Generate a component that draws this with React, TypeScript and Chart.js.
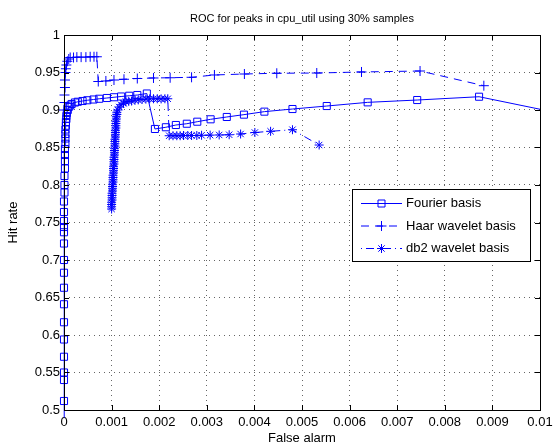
import React, { useEffect, useRef } from "react";
import { Chart, registerables } from "chart.js";

Chart.register(...registerables);

const TITLE = "ROC for peaks in cpu_util using 30% samples";
const X_LABEL = "False alarm";
const Y_LABEL = "Hit rate";
const X_TICKS = ["0", "0.001", "0.002", "0.003", "0.004", "0.005", "0.006", "0.007", "0.008", "0.009", "0.01"];
const Y_TICKS = ["0.5", "0.55", "0.6", "0.65", "0.7", "0.75", "0.8", "0.85", "0.9", "0.95", "1"];
const SERIES_NAMES = ["Fourier basis", "Haar wavelet basis", "db2 wavelet basis"];

const fourierX = [
  0, 0, 0, 0, 0, 0, 0, 0, 0, 0, 0, 0, 0, 0, 0, 0, 0,
  0.00001, 0.00001, 0.00001, 0.00002, 0.00002, 0.00002, 0.00002, 0.00003, 0.00003, 0.00003, 0.00003, 0.00004, 0.00004, 0.00005, 0.00005,
  0.00006, 0.00008, 0.0001, 0.00013,
  0.00016, 0.00023, 0.00029, 0.00039, 0.00049, 0.00062, 0.00074, 0.0009, 0.00105, 0.0012, 0.00137, 0.00154, 0.00174,
  0.00191, 0.00214, 0.00235, 0.00258, 0.0028, 0.00308, 0.00342, 0.00378, 0.00421, 0.0048, 0.00552, 0.00638, 0.00742, 0.00872, 0.0105,
];
const fourierY = [
  0.49, 0.512, 0.54, 0.55, 0.571, 0.594, 0.617, 0.641, 0.663, 0.683, 0.7, 0.722, 0.737, 0.744, 0.752, 0.764, 0.778,
  0.79, 0.8, 0.812, 0.822, 0.832, 0.84, 0.848, 0.855, 0.862, 0.868, 0.874, 0.879, 0.884, 0.888, 0.892,
  0.896, 0.9, 0.904, 0.906,
  0.908, 0.91, 0.911, 0.912, 0.913, 0.914, 0.915, 0.916, 0.917, 0.918, 0.919, 0.92, 0.922,
  0.8747, 0.877, 0.88, 0.8817, 0.8844, 0.8876, 0.8907, 0.8938, 0.8978, 0.9013, 0.9053, 0.9102, 0.9133, 0.9177, 0.8945,
];

const haarX = [
  0, 0.00001, 0.00001, 0.00002, 0.00002, 0.00003, 0.00004, 0.00005, 0.00007, 0.0001,
  0.00013, 0.0002, 0.00027, 0.00036, 0.00046, 0.00055, 0.00063, 0.00069,
  0.00072, 0.00088, 0.00105, 0.00126, 0.00154, 0.00188, 0.00223, 0.00268, 0.00316, 0.00379, 0.00447, 0.00531, 0.00625, 0.00748, 0.00882,
];
const haarY = [
  0.9, 0.91, 0.92, 0.93, 0.94, 0.95, 0.955, 0.96, 0.965, 0.968,
  0.97, 0.97, 0.9705, 0.9705, 0.9705, 0.971, 0.971, 0.971,
  0.938, 0.9387, 0.94, 0.941, 0.942, 0.9427, 0.943, 0.9436, 0.9467, 0.948, 0.949, 0.9493, 0.9507, 0.952, 0.9324,
];

const db2X = [
  0.001, 0.001, 0.001, 0.001, 0.00101, 0.00101, 0.00101, 0.00101, 0.00102, 0.00102, 0.00102, 0.00102,
  0.00103, 0.00103, 0.00103, 0.00103, 0.00104, 0.00104, 0.00104, 0.00104, 0.00105, 0.00105, 0.00105, 0.00105,
  0.00106, 0.00106, 0.00106, 0.00106, 0.00107, 0.00107, 0.00107, 0.00107, 0.00108, 0.00108, 0.00108, 0.00108,
  0.00109, 0.00109, 0.00109, 0.00109, 0.0011, 0.0011, 0.00111, 0.00111,
  0.00113, 0.00116, 0.0012, 0.00125, 0.0013, 0.00136, 0.00142, 0.00149, 0.00156, 0.00164, 0.00172, 0.0018, 0.00188, 0.00196, 0.00204, 0.00212, 0.00218,
  0.00221, 0.00229, 0.00237, 0.00244, 0.00251, 0.0026, 0.00268, 0.00279, 0.00289, 0.00307, 0.00326, 0.00347, 0.00371, 0.00401, 0.00434, 0.0048, 0.00536,
];
const db2Y = [
  0.768, 0.771, 0.774, 0.777, 0.78, 0.783, 0.786, 0.789, 0.792, 0.795, 0.798, 0.801,
  0.804, 0.807, 0.81, 0.813, 0.816, 0.819, 0.822, 0.825, 0.828, 0.831, 0.834, 0.837,
  0.84, 0.843, 0.846, 0.849, 0.852, 0.855, 0.858, 0.861, 0.864, 0.867, 0.87, 0.873,
  0.876, 0.879, 0.882, 0.885, 0.888, 0.891, 0.894, 0.897,
  0.9, 0.904, 0.907, 0.909, 0.911, 0.9115, 0.912, 0.913, 0.9135, 0.914, 0.9145, 0.9148, 0.915, 0.915, 0.9148, 0.915, 0.915,
  0.8657, 0.8657, 0.8657, 0.8657, 0.866, 0.866, 0.866, 0.866, 0.8663, 0.8665, 0.8667, 0.867, 0.868, 0.87, 0.8716, 0.8737, 0.8533,
];

const BLUE = "#0000ff";
const FONT = "'Liberation Sans', Arial, Helvetica, sans-serif";

const toPoints = (xs: number[], ys: number[]) => xs.map((x, i) => ({ x, y: ys[i] }));

function drawMarker(ctx: CanvasRenderingContext2D, kind: string, x: number, y: number) {
  ctx.beginPath();
  if (kind === "rect") {
    ctx.rect(x - 3.5, y - 3.5, 7, 7);
  } else if (kind === "cross") {
    ctx.moveTo(x - 5, y); ctx.lineTo(x + 5, y);
    ctx.moveTo(x, y - 5); ctx.lineTo(x, y + 5);
  } else {
    const r = 4.5;
    ctx.moveTo(x - r, y); ctx.lineTo(x + r, y);
    ctx.moveTo(x, y - r); ctx.lineTo(x, y + r);
    const d = r * Math.SQRT1_2;
    ctx.moveTo(x - d, y - d); ctx.lineTo(x + d, y + d);
    ctx.moveTo(x - d, y + d); ctx.lineTo(x + d, y - d);
  }
  ctx.stroke();
}

const framePlugin = {
  id: "matlabFrame",
  afterDraw(chart: any) {
    const { ctx, chartArea } = chart;
    const { left, right, top, bottom } = chartArea;
    const xs = chart.scales.x;
    const ys = chart.scales.y;
    ctx.save();
    ctx.strokeStyle = "#000";
    ctx.lineWidth = 1;
    ctx.setLineDash([]);
    ctx.strokeRect(Math.round(left) + 0.5, Math.round(top) + 0.5, Math.round(right - left), Math.round(bottom - top));
    ctx.beginPath();
    const tl = 5;
    xs.ticks.forEach((t: any) => {
      const px = Math.round(xs.getPixelForValue(t.value)) + 0.5;
      ctx.moveTo(px, bottom); ctx.lineTo(px, bottom - tl);
      ctx.moveTo(px, top); ctx.lineTo(px, top + tl);
    });
    ys.ticks.forEach((t: any) => {
      const py = Math.round(ys.getPixelForValue(t.value)) + 0.5;
      ctx.moveTo(left, py); ctx.lineTo(left + tl, py);
      ctx.moveTo(right, py); ctx.lineTo(right - tl, py);
    });
    ctx.stroke();

    // title & axis labels
    ctx.fillStyle = "#000";
    ctx.font = `11px ${FONT}`;
    ctx.textAlign = "center";
    ctx.textBaseline = "middle";
    ctx.fillText(TITLE, (left + right) / 2, 19);
    ctx.font = `13px ${FONT}`;
    ctx.fillText(X_LABEL, (left + right) / 2, 438);
    ctx.save();
    ctx.translate(13, (top + bottom) / 2);
    ctx.rotate(-Math.PI / 2);
    ctx.fillText(Y_LABEL, 0, 0);
    ctx.restore();

    // legend
    const bx = 352.5, by = 189.5, bw = 178, bh = 72;
    ctx.fillStyle = "#fff";
    ctx.fillRect(bx, by, bw, bh);
    ctx.strokeStyle = "#000";
    ctx.strokeRect(bx, by, bw, bh);
    const rows = [203.5, 226, 248.5];
    const dashes = [[], [8, 6], [1, 4, 8, 4]];
    const markers = ["rect", "cross", "star"];
    ctx.font = `13px ${FONT}`;
    ctx.textAlign = "left";
    rows.forEach((ry, i) => {
      ctx.strokeStyle = BLUE;
      ctx.lineWidth = 1;
      ctx.setLineDash(dashes[i]);
      ctx.beginPath();
      ctx.moveTo(361, ry); ctx.lineTo(402, ry);
      ctx.stroke();
      ctx.setLineDash([]);
      drawMarker(ctx, markers[i], 381.5, ry);
      ctx.fillStyle = "#000";
      ctx.fillText(SERIES_NAMES[i], 406, ry);
    });
    ctx.restore();
  },
};

export default function App() {
  const ref = useRef<HTMLCanvasElement>(null);
  useEffect(() => {
    if (!ref.current) return;
    const common = {
      borderColor: BLUE,
      borderWidth: 1,
      pointBorderColor: BLUE,
      pointBackgroundColor: "rgba(0,0,0,0)",
      pointBorderWidth: 1,
      pointHoverRadius: 0,
      tension: 0,
      fill: false,
      clip: { left: 10, top: 10, right: 0, bottom: 10 },
    };
    const chart = new Chart(ref.current, {
      type: "line",
      data: {
        datasets: [
          { ...common, label: SERIES_NAMES[0], data: toPoints(fourierX, fourierY), pointStyle: "rect", pointRadius: 5 },
          { ...common, label: SERIES_NAMES[1], data: toPoints(haarX, haarY), pointStyle: "cross", pointRadius: 5, borderDash: [8, 6] },
          { ...common, label: SERIES_NAMES[2], data: toPoints(db2X, db2Y), pointStyle: "star", pointRadius: 4.5, borderDash: [1, 4, 8, 4] },
        ],
      } as any,
      options: {
        animation: false,
        responsive: false,
        devicePixelRatio: 1,
        events: [],
        layout: { padding: { top: 35, right: 20, left: 0, bottom: 0 } },
        plugins: { legend: { display: false }, title: { display: false }, tooltip: { enabled: false } },
        scales: {
          x: {
            type: "linear",
            min: 0,
            max: 0.01,
            afterFit: (s: any) => { s.height = 37; },
            afterBuildTicks: (s: any) => { s.ticks = X_TICKS.map((_, i) => ({ value: i * 0.001 })); },
            ticks: {
              padding: 5,
              color: "#000",
              font: { family: FONT, size: 13 },
              maxRotation: 0,
              autoSkip: false,
              callback: (_v: any, i: number) => X_TICKS[i],
            },
            grid: { color: "rgba(0,0,0,0.6)", drawTicks: false, lineWidth: 1 },
            border: { display: false, dash: [1, 4] },
          },
          y: {
            type: "linear",
            min: 0.5,
            max: 1,
            afterFit: (s: any) => { s.width = 64; },
            afterBuildTicks: (s: any) => { s.ticks = Y_TICKS.map((_, i) => ({ value: 0.5 + i * 0.05 })); },
            ticks: {
              padding: 4,
              color: "#000",
              font: { family: FONT, size: 13 },
              autoSkip: false,
              callback: (_v: any, i: number) => Y_TICKS[i],
            },
            grid: { color: "rgba(0,0,0,0.6)", drawTicks: false, lineWidth: 1 },
            border: { display: false, dash: [1, 4] },
          },
        },
      } as any,
      plugins: [framePlugin],
    });
    return () => chart.destroy();
  }, []);
  return (
    <div style={{ position: "absolute", left: 0, top: 0, width: 560, height: 447, background: "#fff" }}>
      <canvas ref={ref} width={560} height={447} style={{ display: "block" }} />
    </div>
  );
}
